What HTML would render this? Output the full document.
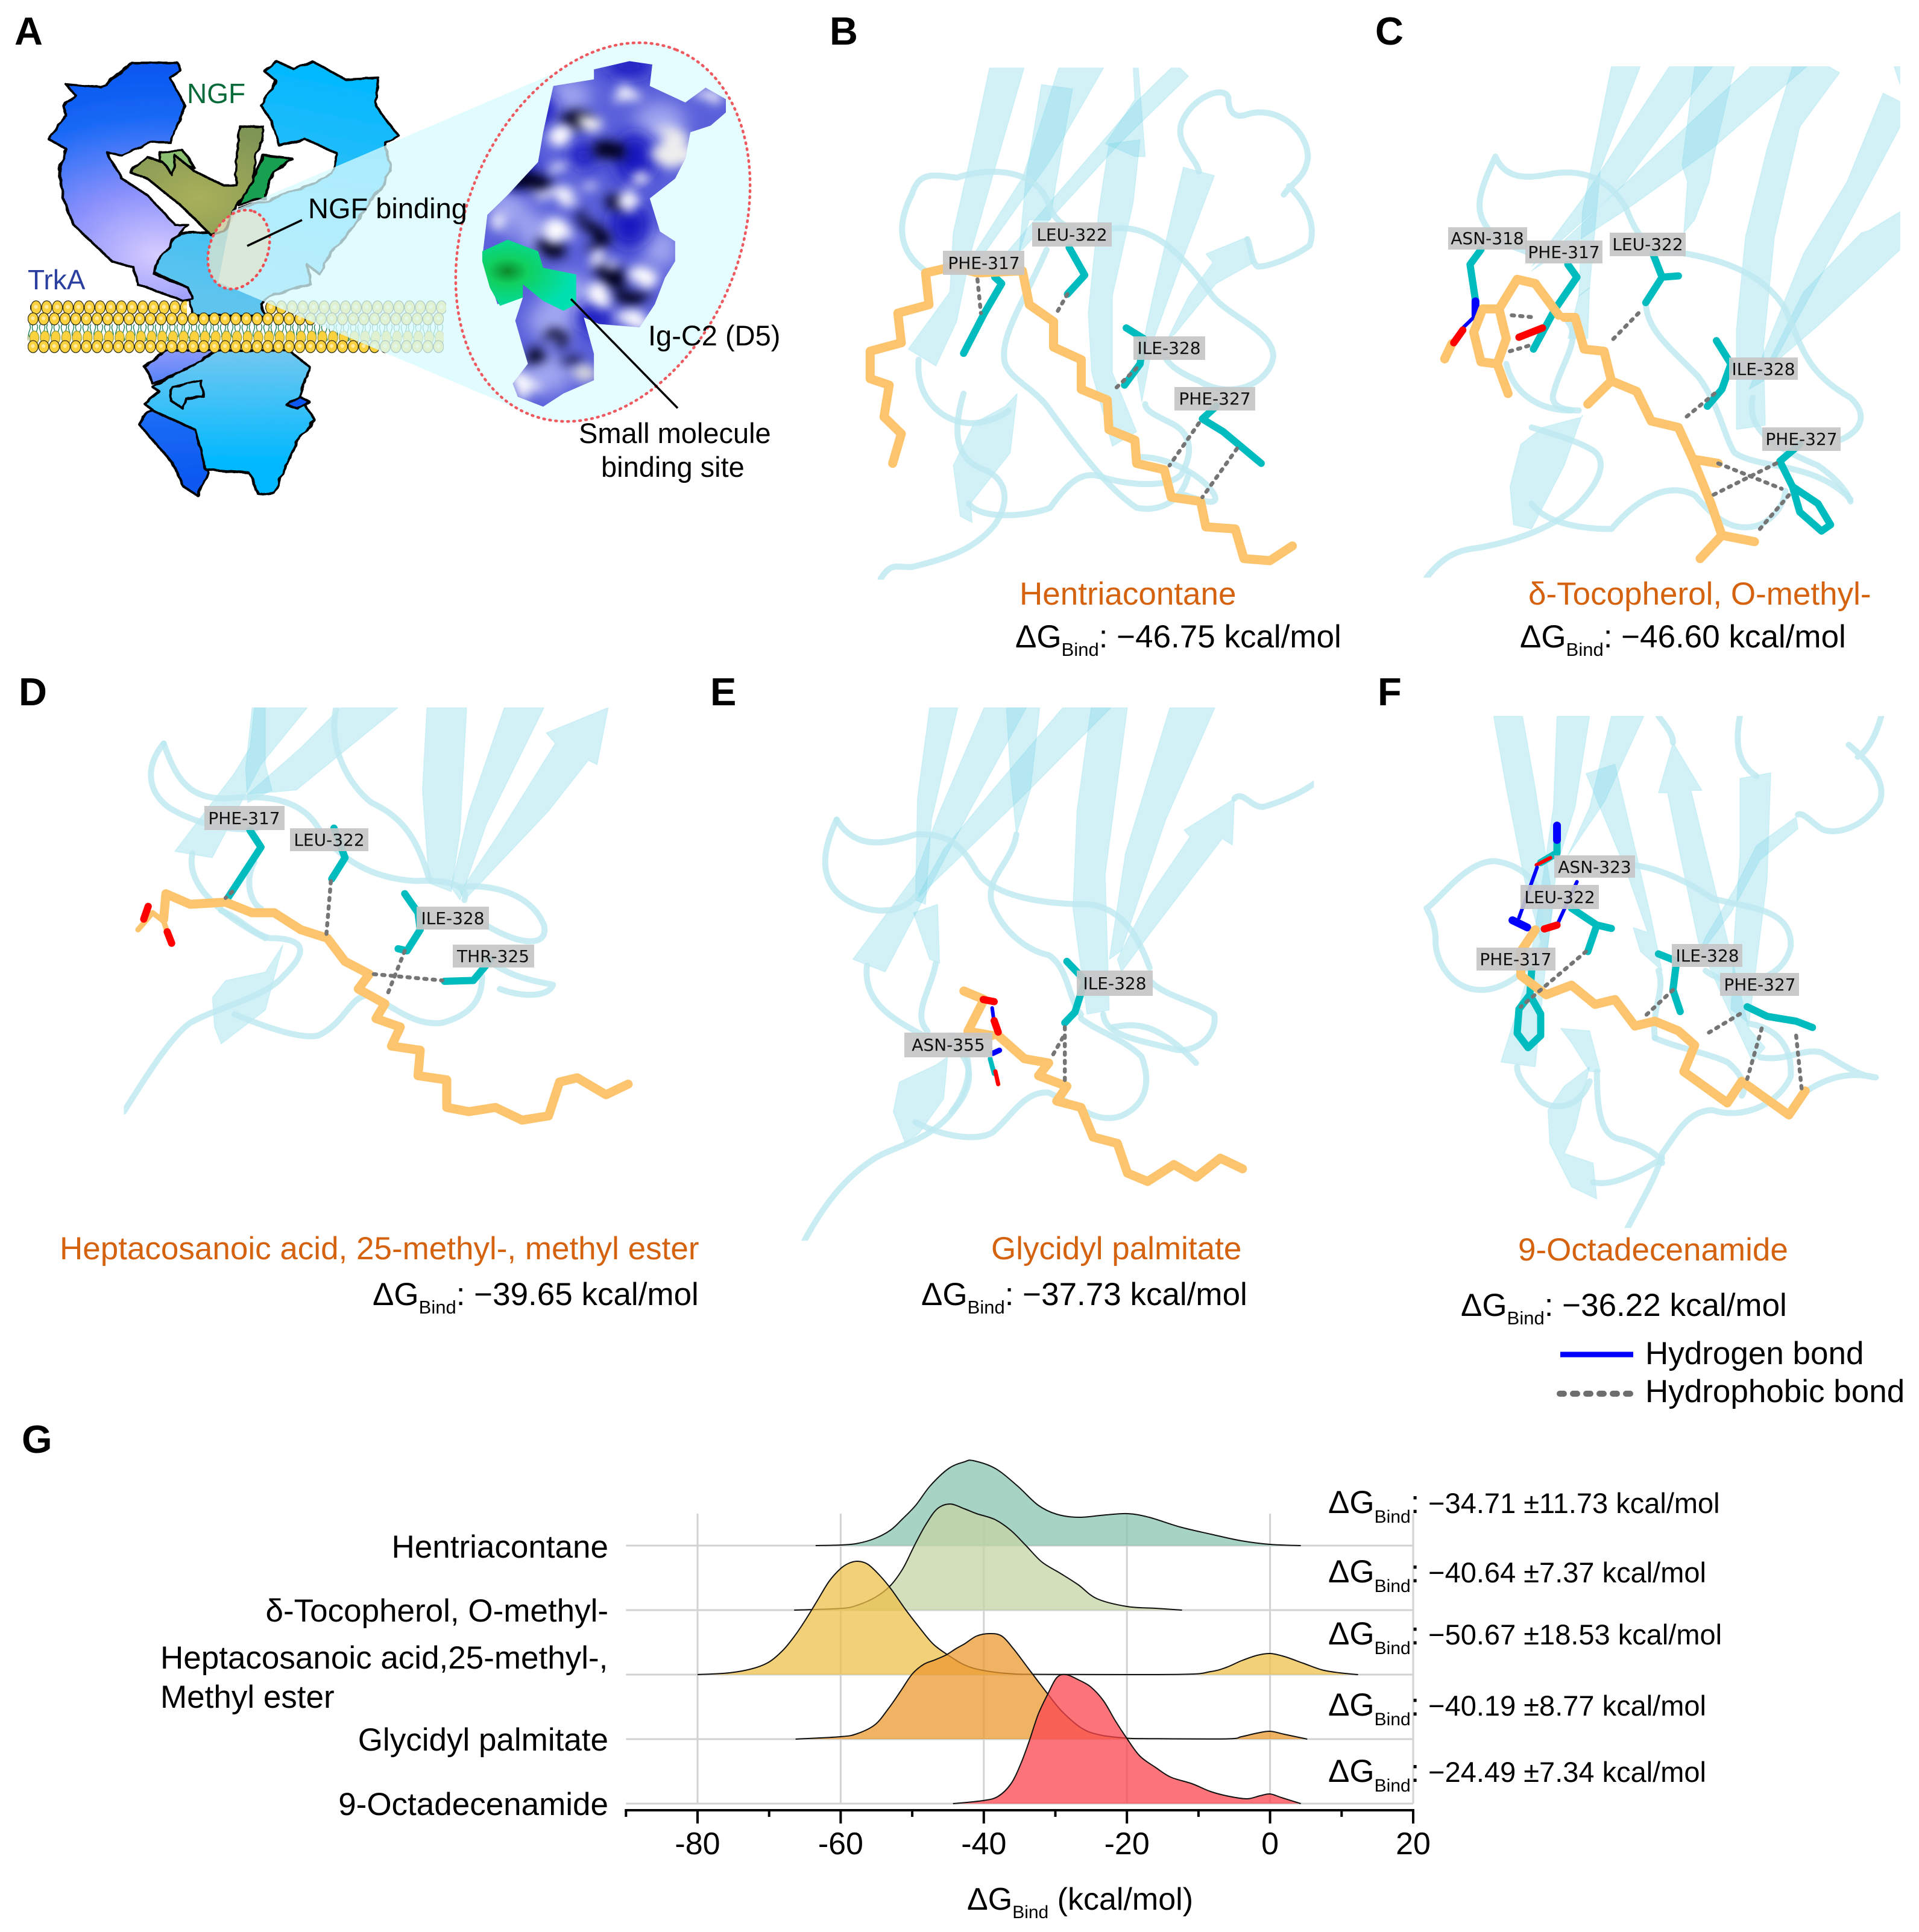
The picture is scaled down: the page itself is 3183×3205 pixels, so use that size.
<!DOCTYPE html>
<html lang="en">
<head>
<meta charset="utf-8">
<title>TrkA small molecule docking figure</title>
<style>
html,body{margin:0;padding:0;background:#fff;}
svg{display:block;font-family:"Liberation Sans",Arial,sans-serif;}
svg *{vector-effect:non-scaling-stroke;}
.rb{fill:rgba(118,212,232,.33);stroke:rgba(118,212,232,.22);stroke-width:1.5;stroke-linejoin:round;}
.lp{fill:none;stroke:#bde8f0;stroke-opacity:.8;stroke-width:10;stroke-linecap:round;stroke-linejoin:round;}
.lg{fill:none;stroke:#fdc46e;stroke-width:15;stroke-linecap:round;stroke-linejoin:round;}
.rs{fill:none;stroke:#00bcbe;stroke-width:12;stroke-linecap:round;stroke-linejoin:round;}
.hb{fill:none;stroke:#757575;stroke-width:6.5;stroke-dasharray:4 10;stroke-linecap:round;}
.red{fill:none;stroke:#f00;stroke-width:12;stroke-linecap:round;}
.blu{fill:none;stroke:#00f;stroke-width:6;stroke-linecap:round;}
.bluk{fill:none;stroke:#00f;stroke-width:13;stroke-linecap:round;}
.box{fill:#c6c6c6;fill-opacity:.92;}
.lab{font-family:"DejaVu Sans",sans-serif;font-size:28px;text-anchor:middle;fill:#111;}
.ttl{font-size:53px;fill:#d4620e;}
.dg{font-size:53px;fill:#000;}
.panel{font-size:65px;font-weight:bold;fill:#000;}
.anno{font-size:47px;fill:#000;}
.outl{stroke:#000;stroke-width:4;stroke-linejoin:round;}
</style>
</head>
<body>
<svg id="fig" xmlns="http://www.w3.org/2000/svg" width="3183" height="3205" viewBox="0 0 3183 3205">
<defs>
  <radialGradient id="gLeft" gradientUnits="userSpaceOnUse" cx="310" cy="770" r="560">
    <stop offset="0" stop-color="#d6ccff"/><stop offset=".35" stop-color="#8a90fb"/><stop offset=".75" stop-color="#1668f5"/><stop offset="1" stop-color="#0a58f0"/>
  </radialGradient>
  <linearGradient id="gRight" gradientUnits="userSpaceOnUse" x1="640" y1="200" x2="420" y2="900">
    <stop offset="0" stop-color="#00b8ff"/><stop offset="1" stop-color="#5ec4ee"/>
  </linearGradient>
  <linearGradient id="gLow" gradientUnits="userSpaceOnUse" x1="500" y1="1060" x2="500" y2="1400">
    <stop offset="0" stop-color="#72c8f0"/><stop offset="1" stop-color="#00b8ff"/>
  </linearGradient>
  <linearGradient id="gLowL" gradientUnits="userSpaceOnUse" x1="340" y1="1060" x2="360" y2="1460">
    <stop offset="0" stop-color="#8c98fa"/><stop offset=".5" stop-color="#1b6cf5"/><stop offset="1" stop-color="#0a58f0"/>
  </linearGradient>
  <radialGradient id="gNgf" gradientUnits="userSpaceOnUse" cx="390" cy="600" r="220">
    <stop offset="0" stop-color="#a9b05a"/><stop offset="1" stop-color="#7f9556"/>
  </radialGradient>
  <radialGradient id="gSite" gradientUnits="userSpaceOnUse" cx="1000" cy="820" r="130">
    <stop offset="0" stop-color="#0d8a2a"/><stop offset=".3" stop-color="#10d060"/><stop offset="1" stop-color="#00e0b0"/>
  </radialGradient>
  <filter id="wob" x="-5%" y="-5%" width="110%" height="110%">
    <feTurbulence type="fractalNoise" baseFrequency="0.035" numOctaves="2" seed="4" result="n"/>
    <feDisplacementMap in="SourceGraphic" in2="n" scale="10"/>
  </filter>
  <filter id="blurW" x="-30%" y="-30%" width="160%" height="160%">
    <feTurbulence type="fractalNoise" baseFrequency="0.02" numOctaves="2" seed="7" result="n"/>
    <feDisplacementMap in="SourceGraphic" in2="n" scale="70" result="d"/>
    <feGaussianBlur in="d" stdDeviation="11 16"/>
  </filter>
  <filter id="blur2" x="-60%" y="-60%" width="220%" height="220%"><feGaussianBlur stdDeviation="18 26"/></filter>
  <clipPath id="surfClip"><polygon points="1170,210 1240,185 1285,195 1280,260 1350,310 1390,265 1430,300 1430,340 1400,380 1360,400 1350,480 1330,540 1280,600 1300,700 1330,730 1330,790 1310,840 1290,920 1260,990 1180,980 1150,960 1170,1070 1170,1150 1110,1190 1070,1230 1020,1200 1010,1160 1040,1100 1030,1050 1015,970 1030,900 980,920 950,780 960,650 1000,590 1060,490 1070,400 1090,260 1170,240"/></clipPath>
  <pattern id="headA" patternUnits="userSpaceOnUse" width="17.7" height="24" x="51" y="498"><ellipse cx="8.8" cy="12" rx="8.4" ry="11" fill="#fbd13e" stroke="#2a2a10" stroke-width="1.2"/><circle cx="8.5" cy="11" r="3.4" fill="#ffeaa0"/></pattern>
  <pattern id="headB" patternUnits="userSpaceOnUse" width="17.7" height="22" x="46" y="518"><ellipse cx="8.8" cy="11" rx="8.4" ry="10" fill="#fbd13e" stroke="#2a2a10" stroke-width="1.2"/><circle cx="8.5" cy="10" r="3.2" fill="#ffeaa0"/></pattern>
  <pattern id="headC" patternUnits="userSpaceOnUse" width="17.7" height="24" x="48" y="548"><ellipse cx="8.8" cy="12" rx="7.6" ry="11" fill="#fbd13e" stroke="#7a8a30" stroke-width="1"/></pattern>
  <pattern id="headD" patternUnits="userSpaceOnUse" width="17.7" height="22" x="46" y="564"><ellipse cx="8.8" cy="11" rx="8.4" ry="10" fill="#fbd13e" stroke="#2a2a10" stroke-width="1.2"/><circle cx="8.5" cy="10" r="3.2" fill="#ffeaa0"/></pattern>
  <pattern id="tails" patternUnits="userSpaceOnUse" width="12" height="28" x="46" y="538"><path d="M3 0C8 7 -2 14 3 21C6 25 5 27 3 28M9 0C4 7 13 14 9 21" fill="none" stroke="#0f7a4a" stroke-width="1.3"/></pattern>
  <clipPath id="cB"><rect x="0" y="160" width="1600" height="1210"/></clipPath>
  <clipPath id="cC"><rect x="0" y="157" width="1517" height="1208"/></clipPath>
  <clipPath id="cD"><rect x="280" y="105" width="1300" height="1100"/></clipPath>
  <clipPath id="cE"><rect x="200" y="105" width="1337" height="1260"/></clipPath>
  <clipPath id="cF"><rect x="100" y="110" width="1450" height="1065"/></clipPath>
</defs>

<!-- PANEL A -->
<g>
  <g transform="scale(.842,.5485)">
    <g filter="url(#wob)">
      <path class="outl" fill="url(#gLowL)" d="M285 1110L330 1060L430 1060L420 1130L340 1140L300 1160ZM280 1260L305 1240L395 1300L410 1430L390 1500L360 1470L340 1400L275 1285Z"/>
      <path class="outl" fill="url(#gLow)" d="M300 1170L350 1130L430 1060L570 1060L610 1110L590 1200L620 1270L590 1320L560 1420L540 1490L510 1495L490 1430L405 1420L385 1300L305 1245L285 1222L315 1185ZM340 1170L395 1150L400 1200L365 1205L360 1235L335 1210Z"/>
      <path class="outl" fill="#0a58f0" d="M565 1225L590 1200L610 1215L585 1235Z"/>
      <path class="outl" fill="url(#gRight)" d="M520 215L545 185L580 210L615 185L680 240L745 235L740 320L785 410L760 432L770 520L700 680L650 770L630 830L605 800L612 860L540 890L515 920L520 955L380 955L370 870L305 825L315 760L355 705L440 700L470 630L520 610L610 560L655 525L665 465L600 420L550 440L535 365L515 320L545 245Z"/>
      <path class="outl" fill="url(#gLeft)" d="M130 255L200 265L260 190L350 190L355 215L335 235L365 320L335 430L300 430L240 470L210 460L240 540L290 590L345 680L370 680L350 710L310 790L305 830L370 870L380 905L360 910L290 870L270 860L265 810L220 790L145 680L125 600L115 520L130 450L95 420L130 350L125 320L150 290Z"/>
      <path class="outl" fill="#8cc070" d="M315 460L360 455L385 510L345 490L340 530L315 490Z"/>
      <path class="outl" fill="#15a050" d="M470 620L520 470L575 480L540 520L520 600Z"/>
      <path class="outl" fill="url(#gNgf)" d="M255 520L290 475L320 490L340 530L345 470L385 520L440 560L465 560L470 380L520 385L515 430L505 470L495 560L465 620L440 700L415 710L355 620L290 540Z"/>
    </g>
  </g>
  <g>
    <rect x="50" y="498" width="260" height="24" fill="url(#headA)"/>
    <rect x="440" y="498" width="300" height="24" fill="url(#headA)"/>
    <rect x="46" y="538" width="690" height="28" fill="url(#tails)"/>
    <rect x="46" y="548" width="690" height="24" fill="url(#headC)"/>
    <rect x="46" y="518" width="690" height="22" fill="url(#headB)"/>
    <rect x="46" y="564" width="690" height="22" fill="url(#headD)"/>
  </g>
  <polygon points="385,350 951,108 1245,290 867,682 362,468" fill="#d8fbff" fill-opacity=".76"/>
  <ellipse cx="1000" cy="385" rx="326" ry="228" transform="rotate(-68 1000 385)" fill="#e6fdff"/>
  <ellipse cx="396" cy="414" rx="68" ry="48" transform="rotate(-68 396 414)" fill="#e8e6cc" fill-opacity=".72"/>
  <ellipse cx="396" cy="414" rx="68" ry="48" transform="rotate(-68 396 414)" fill="none" stroke="#ee4f55" stroke-width="4.5" stroke-dasharray="2 8" stroke-linecap="round"/>
  <ellipse cx="1000" cy="385" rx="326" ry="228" transform="rotate(-68 1000 385)" fill="none" stroke="#ee5a60" stroke-width="4.5" stroke-dasharray="2 8" stroke-linecap="round"/>
  <g transform="scale(.842,.5485)">
    <g clip-path="url(#surfClip)">
      <rect x="900" y="150" width="600" height="1120" fill="#5a60da"/>
      <g filter="url(#blur2)" fill="#a0a6f0">
        <ellipse cx="1120" cy="290" rx="44" ry="50"/><ellipse cx="1120" cy="900" rx="50" ry="70"/><ellipse cx="1300" cy="370" rx="50" ry="60"/><ellipse cx="1000" cy="630" rx="38" ry="60"/><ellipse cx="1300" cy="750" rx="36" ry="60"/><ellipse cx="1090" cy="970" rx="50" ry="60"/><ellipse cx="1080" cy="1130" rx="46" ry="60"/><ellipse cx="1050" cy="700" rx="30" ry="60"/>
      </g>
      <g filter="url(#blur2)" fill="#1418c0">
        <ellipse cx="1250" cy="480" rx="40" ry="80"/><ellipse cx="1240" cy="200" rx="50" ry="34"/><ellipse cx="1060" cy="330" rx="36" ry="50"/><ellipse cx="1240" cy="680" rx="40" ry="70"/><ellipse cx="1020" cy="520" rx="36" ry="50"/><ellipse cx="1170" cy="960" rx="34" ry="50"/><ellipse cx="1150" cy="470" rx="30" ry="40"/>
      </g>
      <g filter="url(#blurW)" fill="#05051a">
        <ellipse cx="1135" cy="360" rx="26" ry="30"/><ellipse cx="1195" cy="450" rx="30" ry="34"/><ellipse cx="1040" cy="550" rx="44" ry="28"/><ellipse cx="1170" cy="720" rx="22" ry="44"/><ellipse cx="1090" cy="755" rx="26" ry="24"/><ellipse cx="1210" cy="840" rx="28" ry="34"/><ellipse cx="1210" cy="610" rx="18" ry="24"/><ellipse cx="1250" cy="900" rx="38" ry="24"/><ellipse cx="1095" cy="1020" rx="22" ry="26"/><ellipse cx="1050" cy="1075" rx="20" ry="26"/><ellipse cx="1120" cy="1085" rx="18" ry="20"/><ellipse cx="1140" cy="650" rx="14" ry="22"/>
      </g>
      <g filter="url(#blurW)" fill="#fff">
        <ellipse cx="1105" cy="410" rx="24" ry="34"/><ellipse cx="1160" cy="370" rx="18" ry="24"/><ellipse cx="1230" cy="290" rx="24" ry="28"/><ellipse cx="1100" cy="510" rx="18" ry="24"/><ellipse cx="1325" cy="450" rx="38" ry="60" fill="#eee"/><ellipse cx="1260" cy="540" rx="16" ry="24"/><ellipse cx="1170" cy="575" rx="14" ry="18"/><ellipse cx="1240" cy="610" rx="20" ry="30"/><ellipse cx="1100" cy="700" rx="24" ry="40"/><ellipse cx="1185" cy="790" rx="20" ry="30"/><ellipse cx="1270" cy="840" rx="22" ry="30"/><ellipse cx="1180" cy="890" rx="18" ry="34"/><ellipse cx="1245" cy="960" rx="26" ry="26"/><ellipse cx="1030" cy="1170" rx="26" ry="34"/><ellipse cx="1155" cy="1130" rx="16" ry="28" fill="#ddd"/><ellipse cx="1095" cy="585" rx="44" ry="14"/><ellipse cx="985" cy="675" rx="16" ry="28"/><ellipse cx="1390" cy="285" rx="22" ry="18"/>
      </g>
    </g>
    <path d="M950 760L1000 725L1060 760L1070 810L1135 830L1135 920L1110 940L1070 910L1030 860L1030 900L985 925L965 870L950 790Z" fill="url(#gSite)"/>
  </g>
  <line x1="410" y1="408" x2="501" y2="365" stroke="#000" stroke-width="3.5"/>
  <line x1="947" y1="496" x2="1124" y2="677" stroke="#000" stroke-width="3.5"/>
  <text class="panel" x="24" y="74">A</text>
  <text x="310" y="171" font-size="46" fill="#0a6b3a">NGF</text>
  <text x="46" y="480" font-size="46" fill="#2a3f9f">TrkA</text>
  <text class="anno" x="511" y="362">NGF binding</text>
  <text class="anno" x="1075" y="573">Ig-C2 (D5)</text>
  <text class="anno" x="960" y="735">Small molecule</text>
  <text class="anno" x="997" y="791">binding site</text>
</g>

<!-- PANEL B -->
<g>
  <g transform="translate(1340,0) scale(.574,.702)" clip-path="url(#cB)">
    <g>
      <polygon class="rb" points="525,160 625,160 540,400 470,600 430,760 370,865 290,825 410,690 420,550 470,370"/>
      <polygon class="rb" points="675,200 765,210 720,420 700,520 640,520 610,600 630,420"/>
      <polygon class="rb" points="725,160 855,160 700,380 500,610 480,600 620,420"/>
      <polygon class="rb" points="1075,160 1100,180 900,340 620,590 560,610 750,430 950,240 1050,160"/>
      <polygon class="rb" points="940,160 955,160 975,370 945,370 860,340 945,235"/>
      <polygon class="rb" points="870,340 960,330 940,480 880,700 880,880 950,1020 880,1055 820,880 810,740 840,500"/>
      <polygon class="rb" points="1085,395 1175,415 1080,620 1000,800 965,950 950,880 1000,690"/>
      <polygon class="rb" points="1150,600 1270,560 1290,620 1180,670 1060,790 1040,800 1100,700 1170,620"/>
      <polygon class="rb" points="605,930 585,1070 470,1190 475,1235 440,1220 420,1100 480,1000 570,960"/>
      <path class="lp" d="M210 1368C240 1330 250 1340 300 1340C400 1320 480 1300 540 1240C590 1180 570 1130 510 1110C440 1090 410 1040 450 930"/>
      <path class="lp" d="M465 1190C500 1230 640 1220 700 1200C760 1130 800 1110 860 1130C950 1150 1050 1150 1080 1120C1120 1060 1100 1020 1050 1000C1000 980 975 970 975 955"/>
      <path class="lp" d="M960 1080C1050 1080 1150 1130 1175 1170C1190 1200 1130 1180 1090 1170"/>
      <path class="lp" d="M320 850C310 950 400 1000 470 1000C520 1000 570 980 580 970"/>
      <path class="lp" d="M340 640C270 600 250 540 300 460C320 410 350 410 430 420C500 400 640 390 690 470C710 520 740 560 880 540C1000 530 1080 600 1170 700C1220 750 1340 780 1345 840C1340 900 1230 950 1130 900C1070 880 1040 860 1030 840"/>
      <path class="lp" d="M690 590C620 720 550 800 570 860C590 900 660 920 700 970C780 1060 860 1150 950 1200C1010 1210 1080 1190 1100 1120"/>
      <path class="lp" d="M1130 405C1120 370 1060 340 1080 290C1110 230 1200 200 1215 230C1215 270 1240 280 1270 270C1350 250 1440 300 1445 370C1440 420 1400 430 1375 460M1390 440C1440 480 1470 530 1450 580C1400 610 1330 630 1300 630C1280 620 1280 580 1270 565"/>
    </g>
    <polyline class="rs" points="540,655 560,670 510,740 450,835"/>
    <polyline class="rs" points="755,585 800,650 750,695"/>
    <polyline class="rs" points="920,775 970,800 960,860 915,910"/>
    <polyline class="rs" points="1180,960 1140,990 1200,1020 1310,1095"/>
    <polyline class="lg" points="245,1095 270,1025 220,985 235,910 180,895 180,830 270,810 260,740 350,720 340,645 420,630 490,645 620,640 640,720 710,760 710,820 790,850 790,920 865,945 870,1015 945,1040 950,1095 1030,1110 1050,1175 1135,1185 1150,1245 1235,1250 1260,1320 1335,1325 1400,1290"/>
    <path class="hb" d="M490 660L500 740M750 695L715 745M950 870L880 925M1130 1000L1045 1100M1240 1060L1140 1175"/>
  </g>
  <g><rect class="box" x="1564" y="416" width="135" height="40"/><text class="lab" x="1632" y="446">PHE-317</text></g>
  <g><rect class="box" x="1712" y="369" width="132" height="40"/><text class="lab" x="1778" y="399">LEU-322</text></g>
  <g><rect class="box" x="1880" y="558" width="119" height="39"/><text class="lab" x="1939" y="587">ILE-328</text></g>
  <g><rect class="box" x="1948" y="642" width="134" height="39"/><text class="lab" x="2015" y="671">PHE-327</text></g>
  <text class="panel" x="1376" y="74">B</text>
  <text class="ttl" x="1691" y="1003">Hentriacontane</text>
  <text class="dg" x="1684" y="1074">ΔG<tspan dy="14" font-size="31">Bind</tspan><tspan dy="-14">: −46.75 kcal/mol</tspan></text>
</g>

<!-- PANEL C -->
<g>
  <g transform="translate(2240,0) scale(.601,.702)" clip-path="url(#cC)">
    <g>
      <polygon class="rb" points="720,157 800,157 690,400 660,680 630,700 640,500"/>
      <polygon class="rb" points="880,157 1000,157 750,440 500,630 640,470"/>
      <polygon class="rb" points="950,157 1060,157 1000,380 990,430 950,520 920,550 930,430 915,390"/>
      <polygon class="rb" points="1105,157 1260,157 1000,350 770,490 500,640 600,560 800,400"/>
      <polygon class="rb" points="1220,157 1320,157 1350,172 1240,300 1170,560 1140,820 1145,1005 1065,1015 1065,780 1090,560 1150,350"/>
      <polygon class="rb" points="1470,220 1517,240 1517,300 1300,650 1140,900 1100,920 1250,600 1370,430"/>
      <polygon class="rb" points="1517,500 1517,590 1290,770 1140,880 1250,690 1410,550 1430,545"/>
      <polygon class="rb" points="640,980 590,1100 500,1250 450,1240 440,1150 470,1050 530,1010 640,985"/>
      <polygon class="rb" points="660,680 655,800 600,800 630,700"/>
      <polygon class="rb" points="1500,157 1517,157 1517,200"/>
      <path class="lp" d="M210 1365C260 1310 300 1300 350 1295C450 1280 550 1250 620 1200C700 1130 710 1080 660 1060C620 1040 540 1020 500 1010"/>
      <path class="lp" d="M500 1190C540 1240 650 1250 720 1250C800 1170 880 1140 950 1170C1010 1230 1060 1260 1130 1240C1180 1220 1200 1180 1200 1160"/>
      <path class="lp" d="M630 970C590 970 550 960 560 930C580 860 640 800 600 760"/>
      <path class="lp" d="M400 370C340 480 340 510 410 570L500 600M400 370C430 430 500 420 560 410C640 400 710 420 760 490C800 580 830 590 930 600C1060 620 1150 660 1200 730C1250 830 1260 880 1380 940C1430 980 1410 1020 1350 1040"/>
      <path class="lp" d="M430 860C450 930 520 970 610 970"/>
      <path class="lp" d="M815 720C820 780 880 820 960 890C1020 960 1030 1030 1060 1070C1130 1110 1280 1090 1380 1180"/>
      <path class="lp" d="M1110 940C1090 1020 1180 1060 1290 1100C1340 1130 1370 1160 1380 1185"/>
    </g>
    <polyline class="rs" points="600,625 625,655 565,730 505,825"/>
    <polyline class="rs" points="835,600 860,655 815,715"/>
    <line class="rs" x1="860" y1="655" x2="905" y2="652"/>
    <polyline class="rs" points="1010,805 1050,860 1025,920 985,960"/>
    <polyline class="rs" points="1240,1050 1185,1090 1220,1150 1240,1210 1300,1255 1325,1240 1290,1190 1220,1150"/>
    <polyline class="rs" points="360,590 330,625 345,710"/>
    <line class="bluk" x1="345" y1="712" x2="345" y2="745"/>
    <line class="blu" x1="340" y1="750" x2="310" y2="775"/>
    <polyline class="lg" points="365,730 340,785 360,855 405,860 430,800 410,730 365,730"/>
    <polyline class="lg" points="405,860 435,930"/>
    <polyline class="lg" points="410,730 460,660 510,670 575,745"/>
    <polyline class="lg" points="590,750 620,750 645,825 700,830 720,900 790,925 830,995 905,1010 945,1085 1015,1095"/>
    <polyline class="lg" points="945,1085 995,1190 1025,1265 1115,1280"/>
    <line class="lg" x1="1025" y1="1265" x2="965" y2="1320"/>
    <line class="lg" x1="720" y1="900" x2="655" y2="955"/>
    <line class="lg" x1="280" y1="812" x2="260" y2="848"/>
    <line class="red" x1="310" y1="780" x2="285" y2="810"/>
    <line class="red" x1="465" y1="797" x2="530" y2="775"/>
    <path class="hb" d="M445 745L510 750M440 830L500 815M795 740L715 810M1005 930L920 990M1015 1095L1190 1155M1175 1095L1000 1170M1210 1170L1130 1250"/>
  </g>
  <g><rect class="box" x="2402" y="377" width="131" height="37"/><text class="lab" x="2467" y="405">ASN-318</text></g>
  <g><rect class="box" x="2530" y="399" width="128" height="38"/><text class="lab" x="2594" y="428">PHE-317</text></g>
  <g><rect class="box" x="2670" y="386" width="126" height="39"/><text class="lab" x="2733" y="415">LEU-322</text></g>
  <g><rect class="box" x="2868" y="593" width="114" height="37"/><text class="lab" x="2925" y="622">ILE-328</text></g>
  <g><rect class="box" x="2923" y="709" width="130" height="39"/><text class="lab" x="2988" y="738">PHE-327</text></g>
  <text class="panel" x="2281" y="74">C</text>
  <text class="ttl" x="2535" y="1003" font-family="&quot;Liberation Sans&quot;,&quot;DejaVu Sans&quot;,sans-serif">δ-Tocopherol, O-methyl-</text>
  <text class="dg" x="2521" y="1074">ΔG<tspan dy="14" font-size="31">Bind</tspan><tspan dy="-14">: −46.60 kcal/mol</tspan></text>
</g>

<!-- PANEL D -->
<g>
  <g transform="translate(0,1100) scale(.7337,.702)" clip-path="url(#cD)">
    <g>
      <polygon class="rb" points="575,105 695,105 590,240 480,460 395,445 530,260 565,200"/>
      <polygon class="rb" points="570,105 600,105 600,240 615,300 560,330 555,250"/>
      <polygon class="rb" points="770,105 900,105 670,300 560,310 680,200"/>
      <polygon class="rb" points="965,105 1055,105 1040,400 1020,540 970,520 955,300"/>
      <polygon class="rb" points="1140,105 1230,105 1100,380 1040,560 1020,530 1060,350"/>
      <polygon class="rb" points="1235,165 1375,105 1350,240 1330,230 1240,350 1050,560 1040,540 1130,400 1255,190"/>
      <polygon class="rb" points="640,665 600,820 500,900 485,860 480,790 510,750 600,730"/>
      <path class="lp" d="M280 1060C340 960 390 880 430 850C500 810 600 790 640 740C700 680 690 650 610 650C570 640 540 600 500 585"/>
      <path class="lp" d="M530 830C600 860 680 890 720 880C780 850 790 790 830 785C880 800 930 860 1000 850C1070 830 1090 790 1090 740"/>
      <path class="lp" d="M1100 700C1150 740 1200 750 1250 760C1240 790 1180 790 1130 770"/>
      <path class="lp" d="M370 190C330 240 330 300 380 340C440 380 530 400 580 390L590 380"/>
      <path class="lp" d="M370 190C400 280 430 320 510 320C600 310 680 320 720 390C770 470 850 510 940 515C1020 510 1060 530 1050 560"/>
      <path class="lp" d="M760 105C740 200 790 290 840 330C900 360 940 400 970 510"/>
      <path class="lp" d="M1040 530C1100 520 1200 540 1230 620C1240 670 1180 670 1100 620"/>
      <path class="lp" d="M435 450C420 520 490 590 600 650M575 470C550 520 570 570 590 580"/>
    </g>
    <polyline class="rs" points="565,395 590,435 515,555"/>
    <polyline class="rs" points="755,390 780,460 750,510"/>
    <polyline class="rs" points="915,545 945,590 950,630 920,680 900,675"/>
    <polyline class="rs" points="1005,752 1070,750 1110,700"/>
    <polyline class="lg" points="370,605 375,545 430,570 510,565 570,590 620,590 680,630 740,650 780,705 835,735 810,770 870,805 850,840 905,860 885,905 950,915 945,975 1010,985 1010,1050 1060,1060 1120,1050 1180,1080 1240,1070 1265,990 1305,980 1370,1020 1420,995"/>
    <polyline class="lg" style="stroke-width:9" points="312,630 345,590 370,610 378,635"/>
    <line class="red" x1="325" y1="605" x2="335" y2="575"/>
    <line class="red" x1="378" y1="635" x2="388" y2="662"/>
    <path class="hb" d="M525 540L510 555M748 515L738 640M915 680L875 785M845 735L1000 750"/>
  </g>
  <g><rect class="box" x="339" y="1337" width="133" height="40"/><text class="lab" x="405" y="1367">PHE-317</text></g>
  <g><rect class="box" x="481" y="1374" width="130" height="38"/><text class="lab" x="546" y="1403">LEU-322</text></g>
  <g><rect class="box" x="691" y="1504" width="120" height="38"/><text class="lab" x="751" y="1533">ILE-328</text></g>
  <g><rect class="box" x="751" y="1567" width="135" height="38"/><text class="lab" x="818" y="1596">THR-325</text></g>
  <text class="panel" x="31" y="1170">D</text>
  <text class="ttl" x="99" y="2089">Heptacosanoic acid, 25-methyl-, methyl ester</text>
  <text class="dg" x="618" y="2165">ΔG<tspan dy="14" font-size="31">Bind</tspan><tspan dy="-14">: −39.65 kcal/mol</tspan></text>
</g>

<!-- PANEL E -->
<g>
  <g transform="translate(1150,1100) scale(.6698,.702)" clip-path="url(#cE)">
    <g>
      <polygon class="rb" points="585,105 655,105 590,370 575,570 550,560 555,320"/>
      <polygon class="rb" points="720,105 825,105 690,340 475,730 395,700 550,500 610,350"/>
      <polygon class="rb" points="775,105 858,105 835,300 800,405 785,260"/>
      <polygon class="rb" points="915,105 1035,105 800,330 550,560 620,440 750,290"/>
      <polygon class="rb" points="985,105 1075,105 1020,500 1030,820 975,830 940,580 950,350"/>
      <polygon class="rb" points="1180,105 1292,105 1170,370 1060,680 1030,700 1070,450"/>
      <polygon class="rb" points="1215,395 1340,320 1335,430 1310,415 1130,640 1060,730 1050,700 1130,550 1230,410"/>
      <polygon class="rb" points="545,590 605,570 610,710 585,700"/>
      <polygon class="rb" points="630,930 620,1030 560,1110 525,1135 495,1060 510,990 600,950"/>
      <path class="lp" d="M275 1365C340 1250 400 1200 450 1170C500 1140 590 1130 650 1050C700 990 690 940 640 900"/>
      <path class="lp" d="M550 1085C620 1120 700 1130 740 1110C790 1070 820 1010 880 1015C960 1050 1000 1090 1060 1070C1130 1040 1130 980 1110 930C1070 890 1000 870 960 840"/>
      <path class="lp" d="M1015 830C1020 880 1100 890 1180 910C1240 930 1300 880 1290 830C1250 800 1170 790 1130 750"/>
      <path class="lp" d="M1040 860C1100 850 1150 850 1245 945"/>
      <path class="lp" d="M355 370C300 480 330 540 400 570C470 600 530 580 550 550"/>
      <path class="lp" d="M355 370C400 440 470 430 550 405C640 400 670 440 700 490C740 550 860 570 980 570C1060 580 1100 640 1130 720"/>
      <path class="lp" d="M800 405C790 470 720 510 740 570C770 640 830 680 880 690C930 720 930 800 960 830"/>
      <path class="lp" d="M430 715C420 800 490 840 570 880M600 710C590 770 540 830 580 870M640 880C700 920 690 1000 640 1060"/>
      <path class="lp" d="M1340 320C1360 300 1380 340 1410 340C1450 330 1500 310 1537 285"/>
    </g>
    <polyline class="rs" points="925,705 970,750 945,825 920,850"/>
    <line class="rs" style="stroke-width:8" x1="735" y1="935" x2="745" y2="970"/>
    <line class="red" style="stroke-width:7" x1="748" y1="965" x2="755" y2="995"/>
    <line class="bluk" style="stroke-width:9" x1="742" y1="922" x2="758" y2="915"/>
    <polyline class="lg" points="670,775 720,795 680,870 740,880"/>
    <polyline class="lg" points="755,880 820,935 880,945 855,975 925,1000 900,1035 960,1050 990,1120 1050,1135 1075,1205 1125,1225 1190,1185 1245,1215 1305,1170 1360,1195"/>
    <line class="red" x1="718" y1="795" x2="745" y2="800"/>
    <line class="blu" x1="740" y1="815" x2="745" y2="850"/>
    <line class="red" x1="745" y1="845" x2="755" y2="872"/>
    <path class="hb" d="M915 885L885 935M920 860L920 990"/>
  </g>
  <g><rect class="box" x="1786" y="1610" width="126" height="42"/><text class="lab" x="1849" y="1641">ILE-328</text></g>
  <g><rect class="box" x="1500" y="1713" width="146" height="41"/><text class="lab" x="1573" y="1743">ASN-355</text></g>
  <text class="panel" x="1178" y="1170">E</text>
  <text class="ttl" x="1644" y="2089">Glycidyl palmitate</text>
  <text class="dg" x="1528" y="2165">ΔG<tspan dy="14" font-size="31">Bind</tspan><tspan dy="-14">: −37.73 kcal/mol</tspan></text>
</g>

<!-- PANEL F -->
<g>
  <g transform="translate(2240,1100) scale(.601,.7974)" clip-path="url(#cF)">
    <g>
      <polygon class="rb" points="395,110 475,110 510,260 560,500 540,620 480,450 430,260"/>
      <polygon class="rb" points="570,110 660,110 620,300 570,420 540,620 510,840 415,830 490,650 530,450 560,300"/>
      <polygon class="rb" points="720,110 810,110 700,290 600,400 660,300"/>
      <polygon class="rb" points="650,230 730,210 790,400 830,530 860,640 800,600 780,550 820,560 760,430"/>
      <polygon class="rb" points="890,165 970,265 940,265 1000,450 1100,760 1145,800 1110,830 1030,700 960,580 910,400 875,270 850,270"/>
      <polygon class="rb" points="1075,240 1160,228 1150,450 1100,750 1050,720 1060,560 1075,400"/>
      <polygon class="rb" points="1230,320 1235,345 1130,410 1050,520 950,620 980,570 1060,470 1120,380"/>
      <polygon class="rb" points="580,760 660,765 690,850 660,850 610,790"/>
      <polygon class="rb" points="660,840 620,970 590,1020 670,1040 680,1115 610,1090 550,1000 545,930 590,880"/>
      <path class="lp" d="M765 1175C810 1110 850 1060 860 1020C900 980 930 930 1000 930C1080 950 1180 920 1215 860C1220 800 1180 760 1100 750"/>
      <path class="lp" d="M670 1080C720 1090 800 1060 860 1030M680 850C680 930 690 980 740 990C800 1000 850 1020 860 1040"/>
      <path class="lp" d="M1130 820C1200 830 1250 800 1300 810C1350 830 1400 860 1450 862C1380 850 1320 860 1260 890"/>
      <path class="lp" d="M840 780C900 800 980 810 1040 830C1090 860 1090 890 1080 900"/>
      <path class="lp" d="M660 870C630 930 560 930 520 910C480 880 460 860 460 840"/>
      <path class="lp" d="M210 510C250 490 320 410 400 412C470 420 520 450 540 520C560 600 450 680 360 680C280 680 230 620 235 570C230 530 215 520 210 510"/>
      <path class="lp" d="M780 420C880 430 960 470 1000 490C1100 510 1220 510 1215 590C1190 670 1050 680 980 640"/>
      <path class="lp" d="M850 640C870 680 830 720 840 780"/>
      <path class="lp" d="M850 110C880 140 890 150 890 165M1075 110C1060 170 1070 210 1120 235M1465 110C1450 150 1430 180 1400 195M1375 170C1440 210 1480 250 1460 290C1420 340 1340 360 1300 345C1270 330 1250 310 1235 315"/>
    </g>
    <polyline class="rs" points="500,640 495,690 465,720 460,770 490,800 525,775 525,730 495,690"/>
    <polyline class="rs" points="570,365 570,395 525,415"/>
    <line class="bluk" x1="570" y1="338" x2="570" y2="368"/>
    <line class="red" style="stroke-width:6" x1="513" y1="420" x2="552" y2="405"/>
    <polyline class="rs" points="610,510 680,545 655,600"/>
    <line class="rs" x1="680" y1="545" x2="720" y2="552"/>
    <polyline class="rs" points="850,605 900,620 890,680 910,725"/>
    <polyline class="rs" points="1095,715 1150,735 1230,745 1275,758"/>
    <path class="blu" d="M515 425L465 530M625 455L570 545"/>
    <line class="bluk" x1="447" y1="535" x2="488" y2="550"/>
    <polyline class="lg" points="510,555 470,600 470,650 540,690 610,670 675,710 730,700 785,755 840,745 905,765 950,795 920,850 1040,915 1080,870 1210,940 1255,890"/>
    <line class="red" x1="535" y1="553" x2="570" y2="545"/>
    <path class="hb" d="M650 600L470 715M890 680L805 740M1075 730L975 775M1135 760L1095 865M1230 775L1245 885"/>
  </g>
  <g><rect class="box" x="2578" y="1419" width="134" height="37"/><text class="lab" x="2645" y="1448">ASN-323</text></g>
  <g><rect class="box" x="2522" y="1468" width="130" height="40"/><text class="lab" x="2587" y="1498">LEU-322</text></g>
  <g><rect class="box" x="2449" y="1572" width="131" height="38"/><text class="lab" x="2514" y="1601">PHE-317</text></g>
  <g><rect class="box" x="2773" y="1566" width="117" height="38"/><text class="lab" x="2832" y="1595">ILE-328</text></g>
  <g><rect class="box" x="2853" y="1614" width="131" height="38"/><text class="lab" x="2919" y="1643">PHE-327</text></g>
  <text class="panel" x="2285" y="1170">F</text>
  <text class="ttl" x="2518" y="2091">9-Octadecenamide</text>
  <text class="dg" x="2423" y="2183">ΔG<tspan dy="14" font-size="31">Bind</tspan><tspan dy="-14">: −36.22 kcal/mol</tspan></text>
  <line x1="2588" y1="2247" x2="2709" y2="2247" stroke="#0000ff" stroke-width="9"/>
  <text x="2729" y="2263" font-size="53">Hydrogen bond</text>
  <line x1="2587" y1="2312" x2="2711" y2="2312" stroke="#6e6e6e" stroke-width="10" stroke-dasharray="7 15" stroke-linecap="round"/>
  <text x="2729" y="2326" font-size="53">Hydrophobic bond</text>
</g>

<!-- PANEL G -->
<g id="ridge">
  <text class="panel" x="36" y="2410">G</text>
</g>
</svg>

<script>
// ---- ridgeline chart data ----
const categories = ["Hentriacontane", "δ-Tocopherol, O-methyl-", "Heptacosanoic acid,25-methyl-,", "Glycidyl palmitate", "9-Octadecenamide"];
const statLabels = ["−34.71 ±11.73 kcal/mol", "−40.64 ±7.37 kcal/mol", "−50.67 ±18.53 kcal/mol", "−40.19 ±8.77 kcal/mol", "−24.49 ±7.34 kcal/mol"];
const tickValues = [-80, -60, -40, -20, 0, 20];
const minorTickValues = [-90, -70, -50, -30, -10, 10];
const fillColors = ["#88c4af", "#c4d3a3", "#eec04a", "#eb982f", "#fb464e"];

// energy grid (kcal/mol) and relative density read for each compound
const energyHentriacontane = [-63.5,-60,-57.7,-55.2,-53,-51.3,-49.5,-47.5,-44.9,-42.7,-41.5,-38.4,-35.3,-32.4,-29.8,-26.8,-23.3,-19.9,-16.9,-12.6,-8.3,-4,0,4.3];
const densityHentriacontane = [0,1,3.5,12,26,45,67,99,128,139,141,128,99,67,52,47,50.5,53,47,31,19,8,2,0];

const energyTocopherol = [-66.5,-60,-57.7,-55.2,-53.1,-51.3,-49.7,-48.1,-46.5,-44.7,-42.7,-41,-38.4,-36.2,-34.1,-31.9,-29.3,-26.8,-24.2,-20,-16,-12.3];
const densityTocopherol = [0,2.7,8,21,40,69,107,142,168,176,168,160,150,132,107,80,61,42,19,6,3,0];

const energyHeptacosanoic = [-80,-75.5,-72.3,-70,-68.1,-66.5,-64.9,-63.2,-61.6,-60,-58.8,-57.6,-56.2,-54.5,-52.9,-51,-49,-47.1,-45.2,-42.7,-40.1,-36.2,-32,-12.6,-8.3,-6.1,-4,-1.8,0,2,4.6,7.2,9.7,12.3];
const densityHeptacosanoic = [0,3,10,21,40,63,91,124,155,176,185,188,183,164,141,109,78,51,34,16,7,1.5,0.4,0.4,5,12,23,32,35,30,19,8,3,0];

const energyGlycidyl = [-66.3,-60,-57.7,-55.2,-53.3,-51.6,-50,-48.4,-46.8,-45.2,-43.9,-42.7,-41,-39.2,-37.5,-35.8,-33.7,-31,-29,-26.3,-23.8,-20,-16.9,-6.1,-4,-1.8,0,2,5.2];
const densityGlycidyl = [0,4,9,24,51,80,108,124,131.6,140,150,158,171,175,171,149,116,74,45,18,7,1.5,0.8,0.4,4,10,13,8,0];

const energyOctadecenamide = [-44.3,-40.1,-38,-36.2,-34.9,-33.7,-32.4,-31,-29.8,-28.5,-26.8,-25.1,-23.3,-21.6,-20,-18.2,-16,-13.9,-10.9,-8.3,-5.7,-3.2,-1.4,0,1.6,4.3];
const densityOctadecenamide = [0,5,12,33,64,102,148,183,209,214,205.5,194,171,137,108,79,60,44,33,20,12,8,13,16,10,0];

const energySeries = [energyHentriacontane, energyTocopherol, energyHeptacosanoic, energyGlycidyl, energyOctadecenamide];
const densitySeries = [densityHentriacontane, densityTocopherol, densityHeptacosanoic, densityGlycidyl, densityOctadecenamide];

// ---- axis functions ----
const svgNS = "http://www.w3.org/2000/svg";
const ridge = document.getElementById("ridge");
function xScale(v) { return 2106.6 + 11.87 * v; }
function rowBaseline(i) { return 2564 + i * 107; }
function yScale(i, d) { return rowBaseline(i) - d; }

function smoothLine(pts) {
  let d = "";
  for (let i = 0; i < pts.length - 1; i++) {
    const p0 = pts[Math.max(i - 1, 0)], p1 = pts[i], p2 = pts[i + 1], p3 = pts[Math.min(i + 2, pts.length - 1)];
    const c1 = [p1[0] + (p2[0] - p0[0]) / 6, p1[1] + (p2[1] - p0[1]) / 6];
    const c2 = [p2[0] - (p3[0] - p1[0]) / 6, p2[1] - (p3[1] - p1[1]) / 6];
    d += "C" + c1[0].toFixed(1) + " " + c1[1].toFixed(1) + " " + c2[0].toFixed(1) + " " + c2[1].toFixed(1) + " " + p2[0].toFixed(1) + " " + p2[1].toFixed(1);
  }
  return d;
}

function make(tag, attrs) {
  const el = document.createElementNS(svgNS, tag);
  for (const k in attrs) el.setAttribute(k, attrs[k]);
  return el;
}

// vertical grid
tickValues.forEach(function (v) {
  const el = make("line", { x1: xScale(v), x2: xScale(v), y1: 2511, y2: rowBaseline(4), stroke: "#d2d2d2", "stroke-width": 3 });
  
  
  ridge.appendChild(el);
});

// row baselines
categories.forEach(function (c, i) {
  const el = make("line", { x1: xScale(-90), x2: xScale(20), y1: rowBaseline(i), y2: rowBaseline(i), stroke: "#d2d2d2", "stroke-width": 3 });
  
  
  ridge.appendChild(el);
});

// density ridges
categories.forEach(function (c, i) {
  const pts = energySeries[i].map(function (e, j) { return [xScale(e), yScale(i, densitySeries[i][j])]; });
  const first = pts[0], last = pts[pts.length - 1];
  const line = smoothLine(pts);
  const area = make("path", { d: "M" + first[0] + " " + rowBaseline(i) + "L" + first[0] + " " + first[1] + line + "L" + last[0] + " " + rowBaseline(i) + "Z", fill: fillColors[i], "fill-opacity": 0.75 });
  
  
  ridge.appendChild(area);
  const outline = make("path", { d: "M" + first[0] + " " + first[1] + line, fill: "none", stroke: "#111", "stroke-width": 2 });
  
  
  ridge.appendChild(outline);
});

// x axis
const axisLine = make("line", { x1: xScale(-90) - 2, x2: xScale(20) + 2, y1: 3003, y2: 3003, stroke: "#000", "stroke-width": 4 });


ridge.appendChild(axisLine);

tickValues.forEach(function (v) {
  const tick = make("line", { x1: xScale(v), x2: xScale(v), y1: 3003, y2: 3025, stroke: "#000", "stroke-width": 4 });
  
  
  ridge.appendChild(tick);
  const label = make("text", { x: xScale(v), y: 3076, "font-size": 52, "text-anchor": "middle" });
  label.textContent = String(v);
  
  
  ridge.appendChild(label);
});
minorTickValues.forEach(function (v) {
  const tick = make("line", { x1: xScale(v), x2: xScale(v), y1: 3003, y2: 3014, stroke: "#000", "stroke-width": 4 });
  
  
  ridge.appendChild(tick);
});

// row labels
const labelBaselines = [20, 19, -10, 19, 19];
categories.forEach(function (c, i) {
  const el = make("text", { x: i === 2 ? 266 : 1009, y: rowBaseline(i) + labelBaselines[i], "font-size": 53, "text-anchor": i === 2 ? "start" : "end" });
  el.textContent = c;
  
  
  ridge.appendChild(el);
});
const methylEster = make("text", { x: 266, y: 2833, "font-size": 53 });
methylEster.textContent = "Methyl ester";


ridge.appendChild(methylEster);

// per-row statistics
const statOffsets = [-54, -46, -50, -39, -36];
statLabels.forEach(function (s, i) {
  const el = make("text", { x: 2203, y: rowBaseline(i) + statOffsets[i], "font-size": 53 });
  const a = make("tspan", {}); a.textContent = "ΔG";
  const b = make("tspan", { dy: 16, "font-size": 30 }); b.textContent = "Bind";
  const c = make("tspan", { dy: -16 }); c.textContent = ": ";
  const d = make("tspan", { "font-size": 47 }); d.textContent = s;
  el.appendChild(a); el.appendChild(b); el.appendChild(c); el.appendChild(d);
  
  
  ridge.appendChild(el);
});

// x axis title
const xTitle = make("text", { x: 1604, y: 3168, "font-size": 52 });
const t1 = make("tspan", {}); t1.textContent = "ΔG";
const t2 = make("tspan", { dy: 14, "font-size": 30 }); t2.textContent = "Bind";
const t3 = make("tspan", { dy: -14 }); t3.textContent = " (kcal/mol)";
xTitle.appendChild(t1); xTitle.appendChild(t2); xTitle.appendChild(t3);


ridge.appendChild(xTitle);
</script>
</body>
</html>
